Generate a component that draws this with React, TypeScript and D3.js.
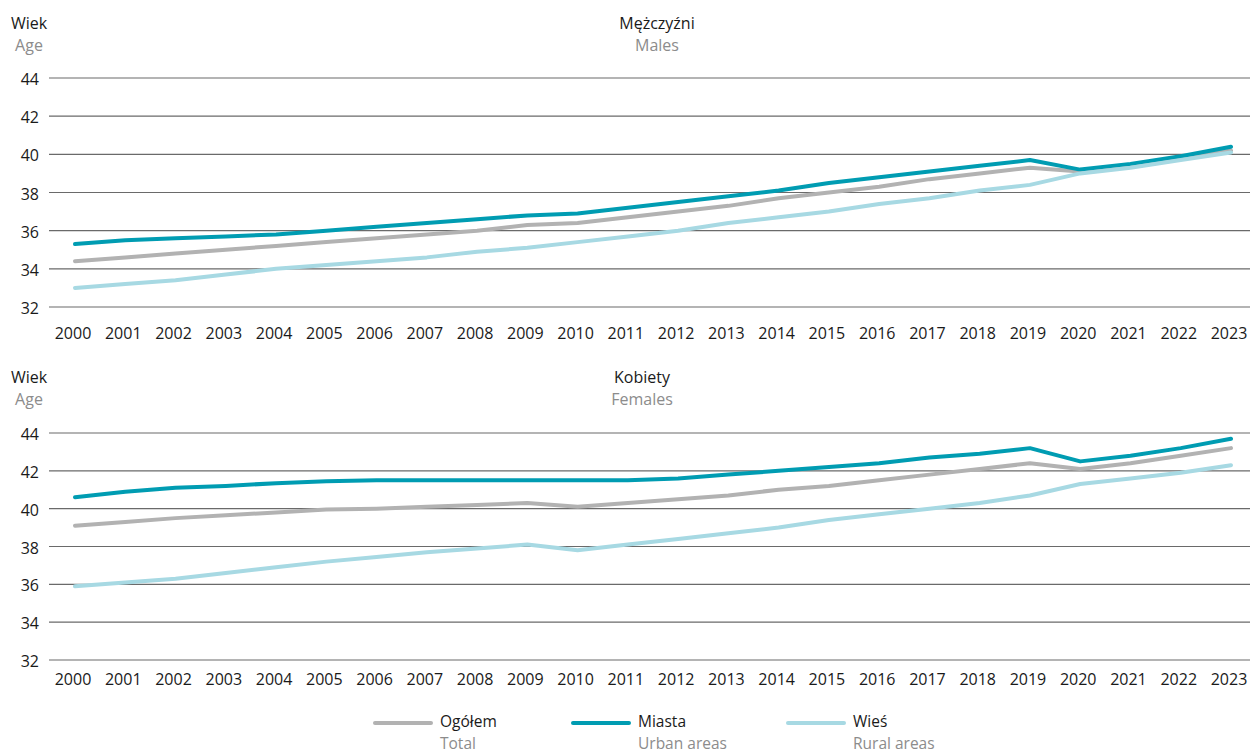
import React from "react";
import * as d3 from "d3";

const years = d3.range(2000, 2024);

const malesTotal = [34.4, 34.6, 34.8, 35.0, 35.2, 35.4, 35.6, 35.8, 36.0, 36.3, 36.4, 36.7, 37.0, 37.3, 37.7, 38.0, 38.3, 38.7, 39.0, 39.3, 39.1, 39.4, 39.8, 40.2];
const malesUrban = [35.3, 35.5, 35.6, 35.7, 35.8, 36.0, 36.2, 36.4, 36.6, 36.8, 36.9, 37.2, 37.5, 37.8, 38.1, 38.5, 38.8, 39.1, 39.4, 39.7, 39.2, 39.5, 39.9, 40.4];
const malesRural = [33.0, 33.2, 33.4, 33.7, 34.0, 34.2, 34.4, 34.6, 34.9, 35.1, 35.4, 35.7, 36.0, 36.4, 36.7, 37.0, 37.4, 37.7, 38.1, 38.4, 39.0, 39.3, 39.7, 40.1];

const femalesTotal = [39.1, 39.3, 39.5, 39.65, 39.8, 39.95, 40.0, 40.1, 40.2, 40.3, 40.1, 40.3, 40.5, 40.7, 41.0, 41.2, 41.5, 41.8, 42.1, 42.4, 42.1, 42.4, 42.8, 43.2];
const femalesUrban = [40.6, 40.9, 41.1, 41.2, 41.35, 41.45, 41.5, 41.5, 41.5, 41.5, 41.5, 41.5, 41.6, 41.8, 42.0, 42.2, 42.4, 42.7, 42.9, 43.2, 42.5, 42.8, 43.2, 43.7];
const femalesRural = [35.9, 36.1, 36.3, 36.6, 36.9, 37.2, 37.45, 37.7, 37.9, 38.1, 37.8, 38.1, 38.4, 38.7, 39.0, 39.4, 39.7, 40.0, 40.3, 40.7, 41.3, 41.6, 41.9, 42.3];

const yTicks = [32, 34, 36, 38, 40, 42, 44];

const seriesNames = ["Ogółem", "Miasta", "Wieś"];
const seriesNamesEn = ["Total", "Urban areas", "Rural areas"];
const colors = ["#b2b2b2", "#009cb2", "#a7d9e3"];

const FONT = "'Open Sans', sans-serif";
const W = 1250;
const H = 753;

const x = d3.scaleLinear().domain([2000, 2023]).range([75, 1231]);

type PanelProps = {
  top: number;
  bottom: number;
  labelBaseline: number;
  titleY: number;
  titleX: number;
  title: string;
  subtitle: string;
  data: number[][];
};

function Panel({ top, bottom, labelBaseline, titleY, titleX, title, subtitle, data }: PanelProps) {
  const y = d3.scaleLinear().domain([32, 44]).range([bottom, top]);
  const line = d3
    .line<number>()
    .x((_, i) => x(years[i]))
    .y((d) => y(d));
  return (
    <g>
      <text x={29} y={titleY} textAnchor="middle" fontSize={16} fill="#1a1a1a">Wiek</text>
      <text x={29} y={titleY + 22} textAnchor="middle" fontSize={16} fill="#8c8c8c">Age</text>
      <text x={titleX} y={titleY} textAnchor="middle" fontSize={16} fill="#1a1a1a">{title}</text>
      <text x={titleX} y={titleY + 22} textAnchor="middle" fontSize={16} fill="#8c8c8c">{subtitle}</text>
      {yTicks.map((t) => (
        <g key={t}>
          <line x1={49} x2={W} y1={y(t)} y2={y(t)} stroke="#6a6a6a" strokeWidth={1.2} />
          <text x={39} y={y(t) + 7} textAnchor="end" fontSize={16} fill="#1a1a1a">{t}</text>
        </g>
      ))}
      {years.map((yr) => (
        <text key={yr} x={x(yr) - 2} y={labelBaseline} textAnchor="middle" fontSize={16} fill="#1a1a1a">{yr}</text>
      ))}
      {data.map((s, i) => (
        <path key={i} d={line(s) || ""} fill="none" stroke={colors[i]} strokeWidth={4} strokeLinejoin="round" strokeLinecap="round" />
      ))}
    </g>
  );
}

const legendLineX = [375, 573, 788];

export default function App() {
  return (
    <svg width={W} height={H} style={{ position: "absolute", left: 0, top: 0, fontFamily: FONT, background: "#fff" }}>
      <Panel top={78} bottom={307} labelBaseline={339} titleY={29} titleX={657} title="Mężczyźni" subtitle="Males"
        data={[malesTotal, malesUrban, malesRural]} />
      <Panel top={433} bottom={660} labelBaseline={685} titleY={383} titleX={642} title="Kobiety" subtitle="Females"
        data={[femalesTotal, femalesUrban, femalesRural]} />
      {seriesNames.map((n, i) => (
        <g key={n}>
          <line x1={legendLineX[i]} x2={legendLineX[i] + 56} y1={723} y2={723} stroke={colors[i]} strokeWidth={4} strokeLinecap="round" />
          <text x={legendLineX[i] + 65} y={727} fontSize={15.5} fill="#1a1a1a">{n}</text>
          <text x={legendLineX[i] + 65} y={748.5} fontSize={15.5} fill="#8c8c8c">{seriesNamesEn[i]}</text>
        </g>
      ))}
    </svg>
  );
}
